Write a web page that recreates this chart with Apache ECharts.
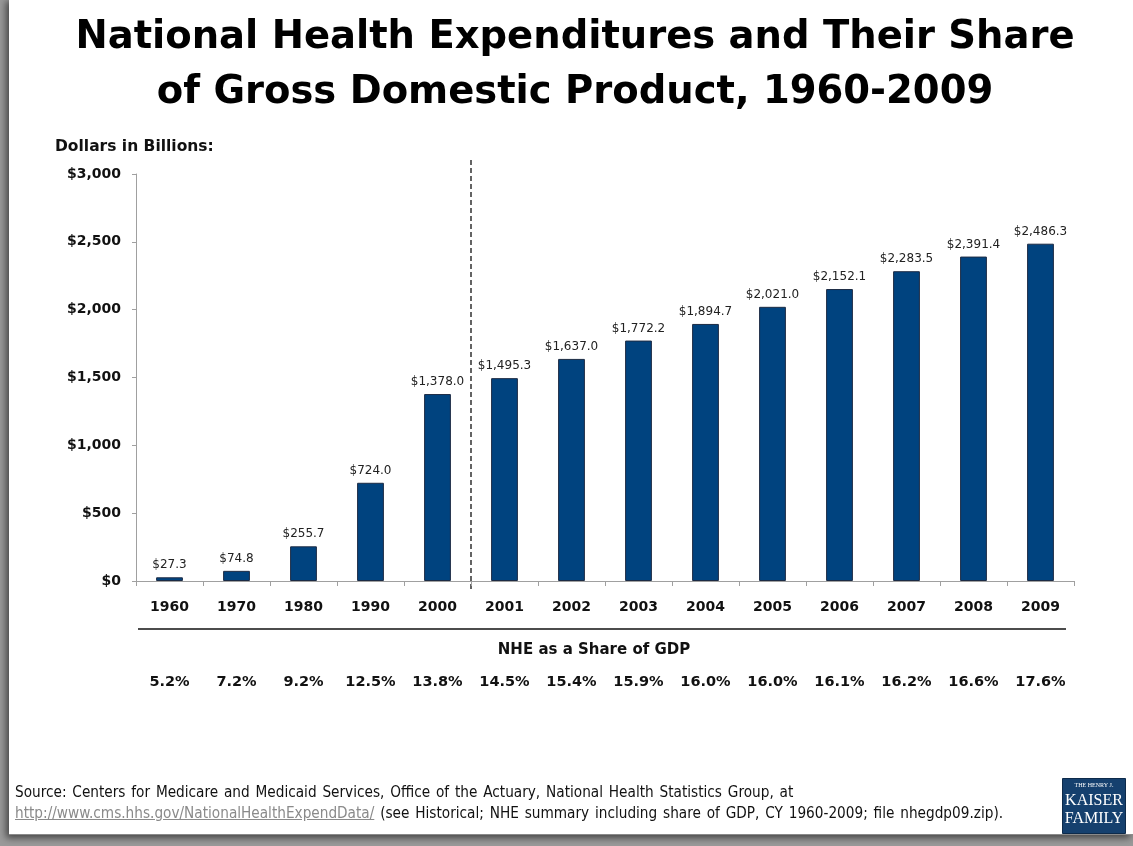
<!DOCTYPE html>
<html><head><meta charset="utf-8">
<script src="https://cdn.jsdelivr.net/npm/echarts@6/dist/echarts.min.js"></script>
<style>
html,body{margin:0;padding:0;width:1133px;height:846px;overflow:hidden;background:#9a9a9a;}
#frame{position:absolute;left:9px;top:-2px;width:1124px;height:836px;background:#fff;border-bottom:1px solid #8a8a8a;box-shadow:-3px 3px 7px rgba(0,0,0,0.55);}
#chart{position:absolute;left:0;top:0;width:1133px;height:846px;}
#src{position:absolute;left:15px;top:782px;font-family:"DejaVu Sans Condensed","DejaVu Sans",sans-serif;font-size:15.2px;line-height:21px;color:#111;word-spacing:1.5px;white-space:nowrap;}
#src a{color:#8a8a8a;text-decoration:underline;}
</style></head>
<body>
<div id="frame"></div>
<div id="chart"></div>
<div id="src">Source: Centers for Medicare and Medicaid Services, Office of the Actuary, National Health Statistics Group, at<br><a>http://www.cms.hhs.gov/NationalHealthExpendData/</a> (see Historical; NHE summary including share of GDP, CY 1960-2009; file nhegdp09.zip).</div>
<script>
const years = ['1960','1970','1980','1990','2000','2001','2002','2003','2004','2005','2006','2007','2008','2009'];
const spending = [27.3, 74.8, 255.7, 724.0, 1378.0, 1495.3, 1637.0, 1772.2, 1894.7, 2021.0, 2152.1, 2283.5, 2391.4, 2486.3];
const gdpShare = ['5.2%','7.2%','9.2%','12.5%','13.8%','14.5%','15.4%','15.9%','16.0%','16.0%','16.1%','16.2%','16.6%','17.6%'];
const titleLines = ['National Health Expenditures and Their Share','of Gross Domestic Product, 1960-2009'];

const F = '"DejaVu Sans", Verdana, sans-serif';
const chart = echarts.init(document.getElementById('chart'), null, {renderer:'canvas'});
const fmt = v => '$' + Number(v).toLocaleString('en-US',{minimumFractionDigits:1,maximumFractionDigits:1});

chart.setOption({
  backgroundColor:'transparent',
  animation:false,
  grid:{left:136, right:59, top:174, bottom:265},
  xAxis:[
    {type:'category', data:years, position:'bottom',
     axisLine:{lineStyle:{color:'#a0a0a0', width:1}},
     axisTick:{show:true, length:5, lineStyle:{color:'#a0a0a0'}},
     axisLabel:{fontFamily:F, fontWeight:'bold', fontSize:14, color:'#111', margin:19}},
    {type:'category', data:gdpShare, position:'bottom', offset:75,
     axisLine:{show:false}, axisTick:{show:false},
     axisLabel:{fontFamily:F, fontWeight:'bold', fontSize:14.5, color:'#111', margin:19}}
  ],
  yAxis:{type:'value', min:0, max:3000, interval:500,
    axisLine:{show:true, lineStyle:{color:'#a0a0a0'}},
    axisTick:{show:true, length:4, lineStyle:{color:'#a0a0a0'}},
    splitLine:{show:false},
    axisLabel:{fontFamily:F, fontWeight:'bold', fontSize:14, color:'#111', margin:15,
      formatter:v=>'$'+v.toLocaleString('en-US')}},
  series:[{
    type:'bar', data:spending, xAxisIndex:0, barWidth:'40%',
    itemStyle:{color:'#00437f', borderColor:'#1c2b44', borderWidth:1},
    label:{show:true, position:'top', distance:6, fontFamily:F, fontSize:12, color:'#222',
      formatter:p=>fmt(p.value)}
  }]
});

function decorate(){
  const x4 = chart.convertToPixel({xAxisIndex:0}, years[4]);
  const x5 = chart.convertToPixel({xAxisIndex:0}, years[5]);
  const xFirst = chart.convertToPixel({xAxisIndex:0}, years[0]);
  const xLast = chart.convertToPixel({xAxisIndex:0}, years[years.length-1]);
  const band = x5 - x4;
  const sepX = (x4 + x5) / 2;
  const yTop = chart.convertToPixel({yAxisIndex:0}, 3000);
  const y0 = chart.convertToPixel({yAxisIndex:0}, 0);
  chart.setOption({graphic:[
    {type:'text', x:575, y:10, style:{text:titleLines.join('\n'), fontFamily:F, fontWeight:'bold', fontSize:38.5, lineHeight:55, fill:'#000', textAlign:'center', textVerticalAlign:'top'}},
    {type:'line', shape:{x1:sepX, y1:yTop-14, x2:sepX, y2:y0+10},
     style:{stroke:'#111', lineWidth:1.3, lineDash:[5,3]}},
    {type:'line', shape:{x1:xFirst-band/2+2, y1:y0+48, x2:xLast+band/2-8, y2:y0+48},
     style:{stroke:'#111', lineWidth:1.5}},
    {type:'text', x:(xFirst+xLast)/2 - 11, y:y0+69, style:{text:'NHE as a Share of GDP', fontFamily:F, fontWeight:'bold', fontSize:15, fill:'#111', textAlign:'center', textVerticalAlign:'middle'}},
    {type:'text', left:55, top:139, style:{text:'Dollars in Billions:', fontFamily:F, fontWeight:'bold', fontSize:15.5, fill:'#111'}},
    {type:'group', left:1062, top:778, children:[
      {type:'rect', shape:{x:0,y:0,width:63,height:55}, style:{fill:'#15406e', stroke:'#0d2a4a', lineWidth:1}},
      {type:'text', x:31.5, y:7, style:{text:'THE HENRY J.', fontFamily:'"Liberation Serif", serif', fontSize:6, fill:'#fff', textAlign:'center', textVerticalAlign:'middle'}},
      {type:'text', x:31.5, y:22, style:{text:'KAISER', fontFamily:'"Liberation Serif", serif', fontSize:16, fill:'#fff', textAlign:'center', textVerticalAlign:'middle'}},
      {type:'text', x:31.5, y:40, style:{text:'FAMILY', fontFamily:'"Liberation Serif", serif', fontSize:16, fill:'#fff', textAlign:'center', textVerticalAlign:'middle'}}
    ]}
  ]});
}
decorate();
</script>
</body></html>
